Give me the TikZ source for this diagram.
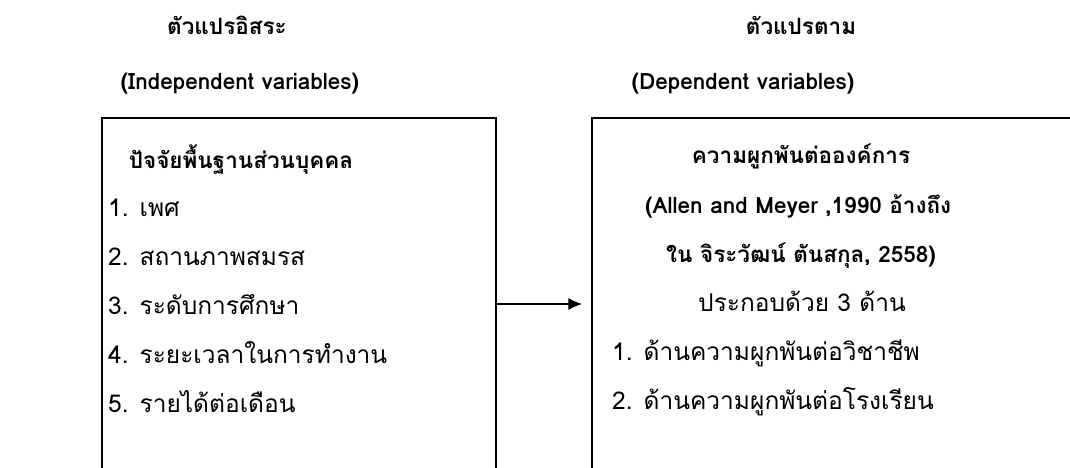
\documentclass[tikz,border=0pt]{standalone}
\usepackage{fontspec}
\setmainfont[Script=Thai]{Loma}
\usetikzlibrary{arrows.meta}
\begin{document}
\begin{tikzpicture}[x=1pt,y=-1pt,
  txt/.style={inner sep=0pt, anchor=base, font=\fontsize{24.5}{29}\selectfont},
  head/.style={txt, font=\fontsize{22.5}{27}\selectfont\bfseries},
  item/.style={txt, anchor=base west},
  frame/.style={draw, line width=1.3pt, inner sep=0pt}]

\useasboundingbox (0,0) rectangle (1070,468);
\clip (0,0) rectangle (1070,468);

% column headings
\node[head] (indepTh) at (227,35) {ตัวแปรอิสระ};
\node[head] (indepEn) at (240,90) {(Independent variables)};
\node[head] (depTh)   at (801,35) {ตัวแปรตาม};
\node[head] (depEn)   at (743,90) {(Dependent variables)};

% the two boxes, open at the bottom of the page
\node[frame, minimum width=394pt, minimum height=372pt] (lbox) at (299,304) {};
\node[frame, minimum width=488pt, minimum height=372pt] (rbox) at (836,304) {};

% personal factors
\node[head] (ltitle) at (241,168) {ปัจจัยพื้นฐานส่วนบุคคล};
\node[item] (l1) at (108,216) {1. เพศ};
\node[item] (l2) at (108,265) {2. สถานภาพสมรส};
\node[item] (l3) at (108,314) {3. ระดับการศึกษา};
\node[item] (l4) at (108,363) {4. ระยะเวลาในการทำงาน};
\node[item] (l5) at (108,412) {5. รายได้ต่อเดือน};

% organisational commitment
\node[head] (rtitle) at (801,163) {ความผูกพันต่อองค์การ};
\node[head, anchor=base west] (rsrc1) at (645,213) {(Allen and Meyer ,1990 อ้างถึง};
\node[head] (rsrc2)  at (801,262) {ใน จิระวัฒน์ ตันสกุล, 2558)};
\node[txt]  (rsub)   at (802,311) {ประกอบด้วย 3 ด้าน};
\node[item] (r1) at (612,360) {1. ด้านความผูกพันต่อวิชาชีพ};
\node[item] (r2) at (612,409) {2. ด้านความผูกพันต่อโรงเรียน};

% relation arrow
\draw[line width=1.8pt, -{Latex[length=14pt,width=12pt]}, shorten >=9pt]
  (lbox.east) -- (rbox.west);
\end{tikzpicture}
\end{document}
